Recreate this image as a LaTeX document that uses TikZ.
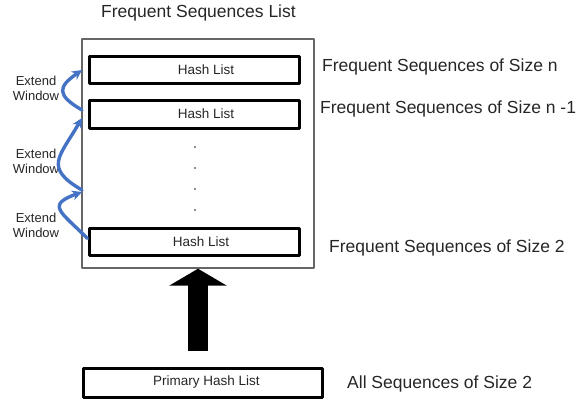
\documentclass[tikz,border=0pt]{standalone}
\usepackage{fontspec}
\setmainfont{Liberation Sans}
\usetikzlibrary{arrows.meta}
\definecolor{winblue}{RGB}{68,114,196}
\begin{document}
\begin{tikzpicture}[x=1pt,y=1pt,line cap=round,line join=round,
  hashbox/.style={draw=black,line width=3pt,minimum width=210pt,minimum height=27pt,inner sep=0pt},
  hashtext/.style={font=\fontsize{13.5}{15}\selectfont,text=black!85},
  sizetext/.style={font=\fontsize{17.5}{20}\selectfont,text=black!85,anchor=base west,inner sep=0pt},
  extendtext/.style={font=\fontsize{13}{15}\selectfont,text=black!85,align=center,inner sep=0pt},
  widen/.style={draw=winblue,line width=3.4pt,-{Stealth[length=10pt,width=10pt]}}]
  \useasboundingbox (0,0) rectangle (577,400);
  \node[draw=black!60,line width=1.4pt,minimum width=232pt,minimum height=229pt,inner sep=0pt] (outer) at (198,246.5) {};
  \node[anchor=base,inner sep=0pt,font=\fontsize{17.5}{20}\selectfont,text=black!85] (title) at (198.5,382) {Frequent Sequences List};
  \node[hashbox,label={[hashtext,xshift=12pt]center:Hash List}] (hashn) at (194,330.5) {};
  \node[hashbox,minimum height=28pt,label={[hashtext,xshift=12pt]center:Hash List}] (hashm) at (194,286) {};
  \node[hashbox,label={[hashtext,xshift=7pt]center:Hash List}] (hashtwo) at (194,158.5) {};
  \node[hashbox,minimum width=239pt,minimum height=29pt,label={[hashtext,xshift=4pt]center:Primary Hash List}] (primary) at (202.5,17.5) {};
  \foreach \yy in {253,232,211,190}{\fill[black!60] (195,\yy) circle (1.1pt);}
  \node[sizetext] (sizen) at (322,329) {Frequent Sequences of Size n};
  \node[sizetext] (sizem) at (320,287) {Frequent Sequences of Size n -1};
  \node[sizetext] (sizetwo) at (329,148) {Frequent Sequences of Size 2};
  \node[sizetext] (sizeall) at (347,12) {All Sequences of Size 2};
  \node[extendtext] (extA) at (36,311.2) {Extend\\Window};
  \node[extendtext] (extB) at (36,238.2) {Extend\\Window};
  \node[extendtext] (extC) at (36,174.2) {Extend\\Window};
  \coordinate (upA) at (82,330);
  \coordinate (loA) at (82,290);
  \coordinate (upB) at (82,282);
  \coordinate (loB) at (82,210);
  \coordinate (upC) at (82,208);
  \coordinate (loC) at ([yshift=3pt]hashtwo.west);
  \draw[widen] (loA) to[out=150,in=215,looseness=1.9] (upA);
  \draw[widen] (loB) to[out=150,in=240,looseness=1.6] (upB);
  \draw[widen] (loC) to[out=135,in=200,looseness=2.1] (upC);
  \coordinate (foot) at ([yshift=16pt]primary.north);
  \draw[line width=20pt,line cap=butt,-{Triangle[width=57pt,length=17pt]}] (outer.south |- foot) -- (outer.south);
\end{tikzpicture}
\end{document}
